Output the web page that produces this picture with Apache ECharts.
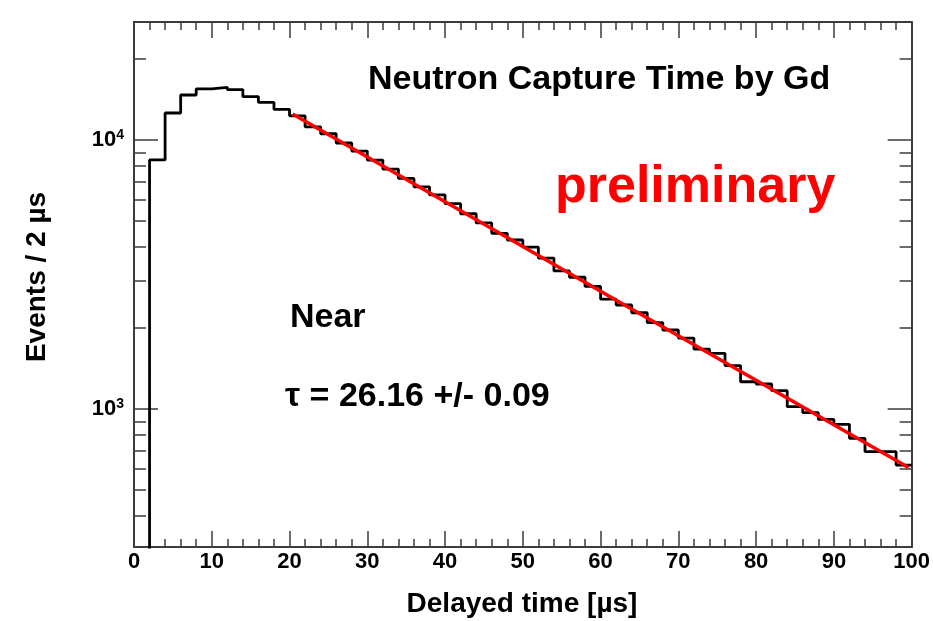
<!DOCTYPE html>
<html><head><meta charset="utf-8">
<script src="https://cdn.jsdelivr.net/npm/echarts@6/dist/echarts.min.js"></script>
<style>html,body{margin:0;padding:0;background:#fff}#c{width:933px;height:621px}</style>
</head><body><div id="c"></div>
<script>
// ---- data ----
const binEdges = [0,2,4,6,8,10,12,14,16,18,20,22,24,26,28,30,32,34,36,38,40,42,44,46,48,50,52,54,56,58,60,62,64,66,68,70,72,74,76,78,80,82,84,86,88,90,92,94,96,98,100];
const counts = [120, 8430, 12600, 14700, 15500, 15700, 15400, 14500, 13800, 13000,
                12300, 11200, 10550, 9750, 9100, 8420, 7800, 7200, 6700, 6250,
                5800, 5320, 4920, 4500, 4250, 4000, 3640, 3260, 3090, 2855,
                2560, 2436, 2280, 2095, 1967, 1835, 1670, 1611, 1450, 1263,
                1239, 1170, 1020, 969, 915, 877, 778, 694, 694, 619];
const fitTimes = [20.4, 60, 99.6];
const fitValues = [12500, 2740, 606];
const yMajorTicks = [1000, 10000];
const yMinorTicks = [400,500,600,700,800,900,2000,3000,4000,5000,6000,7000,8000,9000,20000];
const yMin = 307, yMax = 27460;
const xMin = 0, xMax = 100, xStep = 10;
const titleText = 'Neutron Capture Time by Gd';
const prelimText = 'preliminary';
const detText = 'Near';
const tauText = 'τ = 26.16 +/- 0.09';
const xTitle = 'Delayed time [µs]';
const yTitle = 'Events / 2 µs';

// ---- build ----
const FONT = '"Liberation Sans", Arial, Helvetica, sans-serif';
const frameColor = '#3c3c3c';
const lg = v => Math.log10(v);

const histData = binEdges.slice(0, counts.length).map((e, i) => [e, counts[i]]);
histData.push([binEdges[binEdges.length - 1], counts[counts.length - 1]]);
const fitData = fitTimes.map((t, i) => [t, fitValues[i]]);

function xAx(position, showLabel) {
  return {
    type: 'value', position, min: xMin, max: xMax, interval: xStep,
    axisLine: {show: true, onZero: false, lineStyle: {color: frameColor, width: 2}},
    axisTick: {show: true, inside: true, length: 16, lineStyle: {color: frameColor, width: 1.5}},
    minorTick: {show: true, splitNumber: 5, length: 8, lineStyle: {color: frameColor, width: 1.5}},
    axisLabel: {show: showLabel, color: '#000', fontFamily: FONT, fontWeight: 'bold', fontSize: 22, margin: 4},
    splitLine: {show: false}, minorSplitLine: {show: false}
  };
}
function expAx(position, ticks, len, showLabel, showLine) {
  return {
    type: 'value', position, min: lg(yMin), max: lg(yMax),
    axisLine: {show: showLine, onZero: false, lineStyle: {color: frameColor, width: 2}},
    axisTick: {show: true, inside: true, length: len, customValues: ticks.map(lg), lineStyle: {color: frameColor, width: 1.5}},
    axisLabel: showLabel ? {
      show: true, customValues: yMajorTicks.map(lg), margin: 10,
      formatter: v => '{b|10}{s|' + Math.round(v) + '}',
      rich: {
        b: {fontFamily: FONT, fontWeight: 'bold', fontSize: 22, color: '#000', lineHeight: 24},
        s: {fontFamily: FONT, fontWeight: 'bold', fontSize: 14, color: '#000', verticalAlign: 'top', lineHeight: 24}
      }
    } : {show: false},
    splitLine: {show: false}
  };
}

const chart = echarts.init(document.getElementById('c'), null, {renderer: 'canvas'});
chart.setOption({
  animation: false,
  backgroundColor: '#fff',
  grid: {left: 134, right: 21, top: 22, bottom: 74},
  xAxis: [xAx('bottom', true), xAx('top', false)],
  yAxis: [
    {type: 'log', logBase: 10, min: yMin, max: yMax, show: false},
    expAx('left', yMajorTicks, 24, true, true),
    expAx('left', yMinorTicks, 12, false, false),
    expAx('right', yMajorTicks, 24, false, true),
    expAx('right', yMinorTicks, 12, false, false)
  ],
  series: [
    {type: 'line', step: 'end', xAxisIndex: 0, yAxisIndex: 0, symbol: 'none', clip: true,
     lineStyle: {color: '#000', width: 2.8}, data: histData, z: 3},
    {type: 'line', xAxisIndex: 0, yAxisIndex: 0, symbol: 'none', clip: true,
     lineStyle: {color: '#ff0000', width: 3.5}, data: fitData, z: 4}
  ],
  graphic: [
    {type: 'text', x: 368, y: 80, style: {text: titleText, fill: '#000', font: 'bold 34px ' + FONT, align: 'left', verticalAlign: 'middle'}},
    {type: 'text', x: 555, y: 188, style: {text: prelimText, fill: '#ff0000', font: 'bold 52px ' + FONT, align: 'left', verticalAlign: 'middle'}},
    {type: 'text', x: 290, y: 318, style: {text: detText, fill: '#000', font: 'bold 34px ' + FONT, align: 'left', verticalAlign: 'middle'}},
    {type: 'text', x: 285, y: 397, style: {text: tauText, fill: '#000', font: 'bold 34px ' + FONT, align: 'left', verticalAlign: 'middle'}},
    {type: 'text', x: 522, y: 604, style: {text: xTitle, fill: '#000', font: 'bold 28px ' + FONT, align: 'center', verticalAlign: 'middle'}},
    {type: 'text', x: 37, y: 277, rotation: Math.PI / 2, style: {text: yTitle, fill: '#000', font: 'bold 28px ' + FONT, align: 'center', verticalAlign: 'middle'}}
  ]
});
</script>
</body></html>
